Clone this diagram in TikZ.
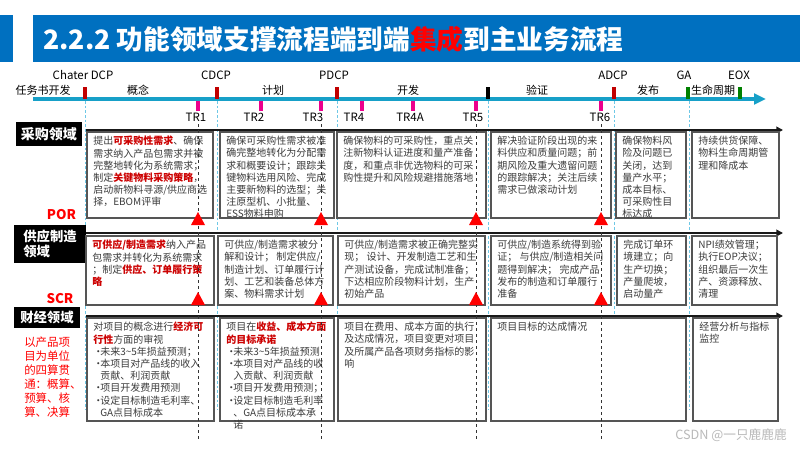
\documentclass[tikz,border=0pt]{standalone}
\usepackage{fontspec}
\setmainfont{Noto Sans CJK SC}
\usetikzlibrary{arrows.meta,calc}
\definecolor{tblue}{RGB}{0,112,192}
\definecolor{tcyan}{RGB}{23,160,200}
\definecolor{lcyan}{RGB}{110,200,230}
\definecolor{mred}{RGB}{192,0,0}
\definecolor{mgreen}{RGB}{0,128,0}
\definecolor{hred}{RGB}{204,0,0}
\definecolor{btxt}{RGB}{60,60,60}
\definecolor{bgray}{RGB}{85,85,85}
\newcommand\hl[1]{{\color{hred}\bfseries #1}}
\newcommand\bl{\makebox[5.25pt][l]{•}}
\newcommand\ind{\hspace*{5.25pt}}
\newcommand\pbox[6]{%
  \node[box, minimum width={(#4-#2)*0.75pt}, minimum height={(#5-#3)*0.75pt}] (#1) at (#2,#3) {};
  \node[txt] (#1t) at ($(#1.north west)+(6,4)$) {#6};}
\begin{document}
\begin{tikzpicture}[x=0.75pt,y=-0.75pt,
  box/.style={draw=bgray, line width=0.9pt, fill=white, anchor=north west, inner sep=0, outer sep=0},
  txt/.style={anchor=north west, inner sep=0, align=left, text=btxt, font=\fontsize{7.5}{9.15}\selectfont},
  head/.style={fill=black, text=white, inner sep=0, align=left, font=\fontsize{10}{11.5}\selectfont\bfseries},
  msl/.style={font=\fontsize{8.6}{10}\selectfont, inner sep=0},
  phl/.style={font=\fontsize{8.25}{10}\selectfont, inner sep=0},
  trl/.style={font=\fontsize{8.6}{10}\selectfont, inner sep=0},
  rowline/.style={line width=1.6pt, black!90, -{Triangle[length=5pt,width=5pt]}},
  cdash/.style={lcyan, line width=0.6pt, dash pattern=on 2pt off 1.5pt},
  kdash/.style={black!80, line width=0.5pt, dash pattern=on 2.5pt off 2pt},
  redl/.style={text=red, font=\fontsize{10}{12}\selectfont\bfseries, inner sep=0}
]
\useasboundingbox (0,0) rectangle (800,450);
\fill[white] (0,0) rectangle (800,450);
% title
\fill[tblue] (0,15) rectangle (12.7,62);
\node[fill=tblue, minimum width={767*0.75pt}, minimum height={47*0.75pt}, anchor=north west, inner sep=0] (titlebar) at (33,15) {};
\node[anchor=west, text=white, inner sep=0, font=\fontsize{20}{24}\selectfont\bfseries] (title) at (43,39) {2.2.2 功能领域支撑流程端到端{\color{red}集成}到主业务流程};
% cyan dashed guide lines
\foreach \x in {85,217,337,488,614,689} \draw[cdash] (\x,101) -- (\x,410);
% row lines
\coordinate (r1a) at (86,130); \coordinate (r1b) at (783,130);
\coordinate (r2a) at (86,233); \coordinate (r2b) at (783,233);
\coordinate (r3a) at (86,316); \coordinate (r3b) at (783,316);
\draw[rowline] (r1a) -- (r1b);
\draw[rowline] (r2a) -- (r2b);
\draw[rowline] (r3a) -- (r3b);
% headers
\node[head, minimum width={66*0.75pt}, minimum height={24*0.75pt}, align=center, font=\fontsize{10.5}{11.5}\selectfont\bfseries] (h1) at (49,134) {采购领域};
\node[head, minimum width={72*0.75pt}, minimum height={38*0.75pt}] (h2) at (50,244) {供应制造\\领域};
\node[head, minimum width={66*0.75pt}, minimum height={21*0.75pt}, align=center] (h3) at (47,317.5) {财经领域};
\node[redl] (por) at (61.5,215) {POR};
\node[redl] (scr) at (60,299) {SCR};
\node[anchor=north west, inner sep=0, align=left, text=red, font=\fontsize{8.6}{10.5}\selectfont] (fin) at (24,337) {以产品项\\目为单位\\的四算贯\\通：概算、\\预算、核\\算、决算};
% row 1
\pbox{a1}{87}{132}{213}{218}{提出\hl{可采购性需求}、确保\\需求纳入产品包需求并被\\完整地转化为系统需求；\\制定\hl{关键物料采购策略}，\\启动新物料寻源/供应商选\\择，EBOM评审}
\pbox{a2}{220}{132}{334}{218}{确保可采购性需求被准\\确完整地转化为分配需\\求和概要设计；跟踪关\\键物料选用风险、完成\\主要新物料的选型；关\\注原型机、小批量、\\ESS物料申购}
\pbox{a3}{337}{132}{486}{218}{确保物料的可采购性，重点关\\注新物料认证进度和量产准备\\度，和重点非优选物料的可采\\购性提升和风险规避措施落地}
\pbox{a4}{491}{132}{611}{218}{解决验证阶段出现的来\\料供应和质量问题；前\\期风险及重大遗留问题\\的跟踪解决；关注后续\\需求已做滚动计划}
\pbox{a5}{616}{132}{686}{218}{确保物料风\\险及问题已\\关闭，达到\\量产水平；\\成本目标、\\可采购性目\\标达成}
\pbox{a6}{692}{132}{779}{218}{持续供货保障、\\物料生命周期管\\理和降成本}
% row 2
\pbox{b1}{86}{236}{214}{305}{\hl{可供应/制造需求}纳入产品\\包需求并转化为系统需求\\；制定\hl{供应、订单履行策}\\\hl{略}}
\pbox{b2}{218}{236}{333}{305}{可供应/制造需求被分\\解和设计；\ 制定供应/\\制造计划、订单履行计\\划、工艺和装备总体方\\案、物料需求计划}
\pbox{b3}{338}{236}{485}{305}{可供应/制造需求被正确完整实\\现；\ 设计、开发制造工艺和生\\产测试设备，完成试制准备；\\下达相应阶段物料计划，生产\\初始产品}
\pbox{b4}{491}{236}{611}{305}{可供应/制造系统得到验\\证；\ 与供应/制造相关问\\题得到解决；\ 完成产品\\发布的制造和订单履行\\准备}
\pbox{b5}{617}{236}{686}{305}{完成订单环\\境建立；向\\生产切换；\\产量爬坡，\\启动量产}
\pbox{b6}{692}{236}{777}{305}{NPI绩效管理；\\执行EOP决议；\\组织最后一次生\\产、资源释放、\\清理}
% row 3
\pbox{c1}{87}{318}{214}{421}{对项目的概念进行\hl{经济可}\\\hl{行性}方面的审视\\\bl 未来3\textasciitilde5年损益预测；\\\bl 本项目对产品线的收入\\\ind 贡献、利润贡献\\\bl 项目开发费用预测\\\bl 设定目标制造毛利率、\\\ind GA点目标成本}
\pbox{c2}{220}{318}{334}{421}{项目在\hl{收益、成本方面}\\\hl{的目标承诺}\\\bl 未来3\textasciitilde5年损益预测\\\bl 本项目对产品线的收\\\ind 入贡献、利润贡献\\\bl 项目开发费用预测；\\\bl 设定目标制造毛利率\\\ind 、GA点目标成本承\\\ind 诺}
\pbox{c3}{338}{318}{486}{421}{项目在费用、成本方面的执行\\及达成情况，项目变更对项目\\及所属产品各项财务指标的影\\响}
\pbox{c4}{491}{318}{686}{421}{项目目标的达成情况}
\pbox{c5}{693}{318}{778}{421}{经营分析与指标\\监控}
% TR dashed lines
\foreach \x in {198,321,476,601} \draw[kdash] (\x,124) -- (\x,440);
% red triangles
\foreach \x in {198,321,476,601} {
  \fill[red] (\x-7,225) -- (\x,212) -- (\x+7,225) -- cycle;
  \fill[red] (\x-7,305) -- (\x,292) -- (\x+7,305) -- cycle;
}
% timeline
\coordinate (t0) at (33,99); \coordinate (t1) at (766,99);
\draw[tcyan, line width=2.6pt, -{Triangle[length=9pt,width=8pt]}] (t0) -- (t1);
\foreach \x/\c in {85/mred,217/mred,337/mred,488/black,614/mred,688/mgreen,740/mgreen}
  \fill[\c] (\x-2,87) rectangle (\x+2,99);
\foreach \x in {198,261,321,362,413,476,601}
  \fill[magenta] (\x-1.7,101) rectangle (\x+1.7,111);
% milestone labels
\node[msl] (m1) at (83,75.5) {Chater DCP};
\node[msl] (m2) at (216,75.5) {CDCP};
\node[msl] (m3) at (334,75.5) {PDCP};
\node[msl] (m4) at (613,75.5) {ADCP};
\node[msl] (m5) at (684,75.5) {GA};
\node[msl] (m6) at (739,75.5) {EOX};
% phase labels
\node[phl] (p0) at (43,90.5) {任务书开发};
\node[phl] (p1) at (138,90.5) {概念};
\node[phl] (p2) at (273,90.5) {计划};
\node[phl] (p3) at (408,90.5) {开发};
\node[phl] (p4) at (537,90.5) {验证};
\node[phl] (p5) at (648,90.5) {发布};
\node[phl] (p6) at (713,90.5) {生命周期};
% TR labels
\node[trl] (tr1) at (196,117) {TR1};
\node[trl] (tr2) at (254,117) {TR2};
\node[trl] (tr3) at (313,117) {TR3};
\node[trl] (tr4) at (354,117) {TR4};
\node[trl] (tr4a) at (410,117) {TR4A};
\node[trl] (tr5) at (473,117) {TR5};
\node[trl] (tr6) at (600,117) {TR6};
% watermark
\node[anchor=east, inner sep=0, text=gray!55, font=\fontsize{9.5}{10}\selectfont] (wm) at (787,435) {CSDN @一只鹿鹿鹿};
\end{tikzpicture}
\end{document}
